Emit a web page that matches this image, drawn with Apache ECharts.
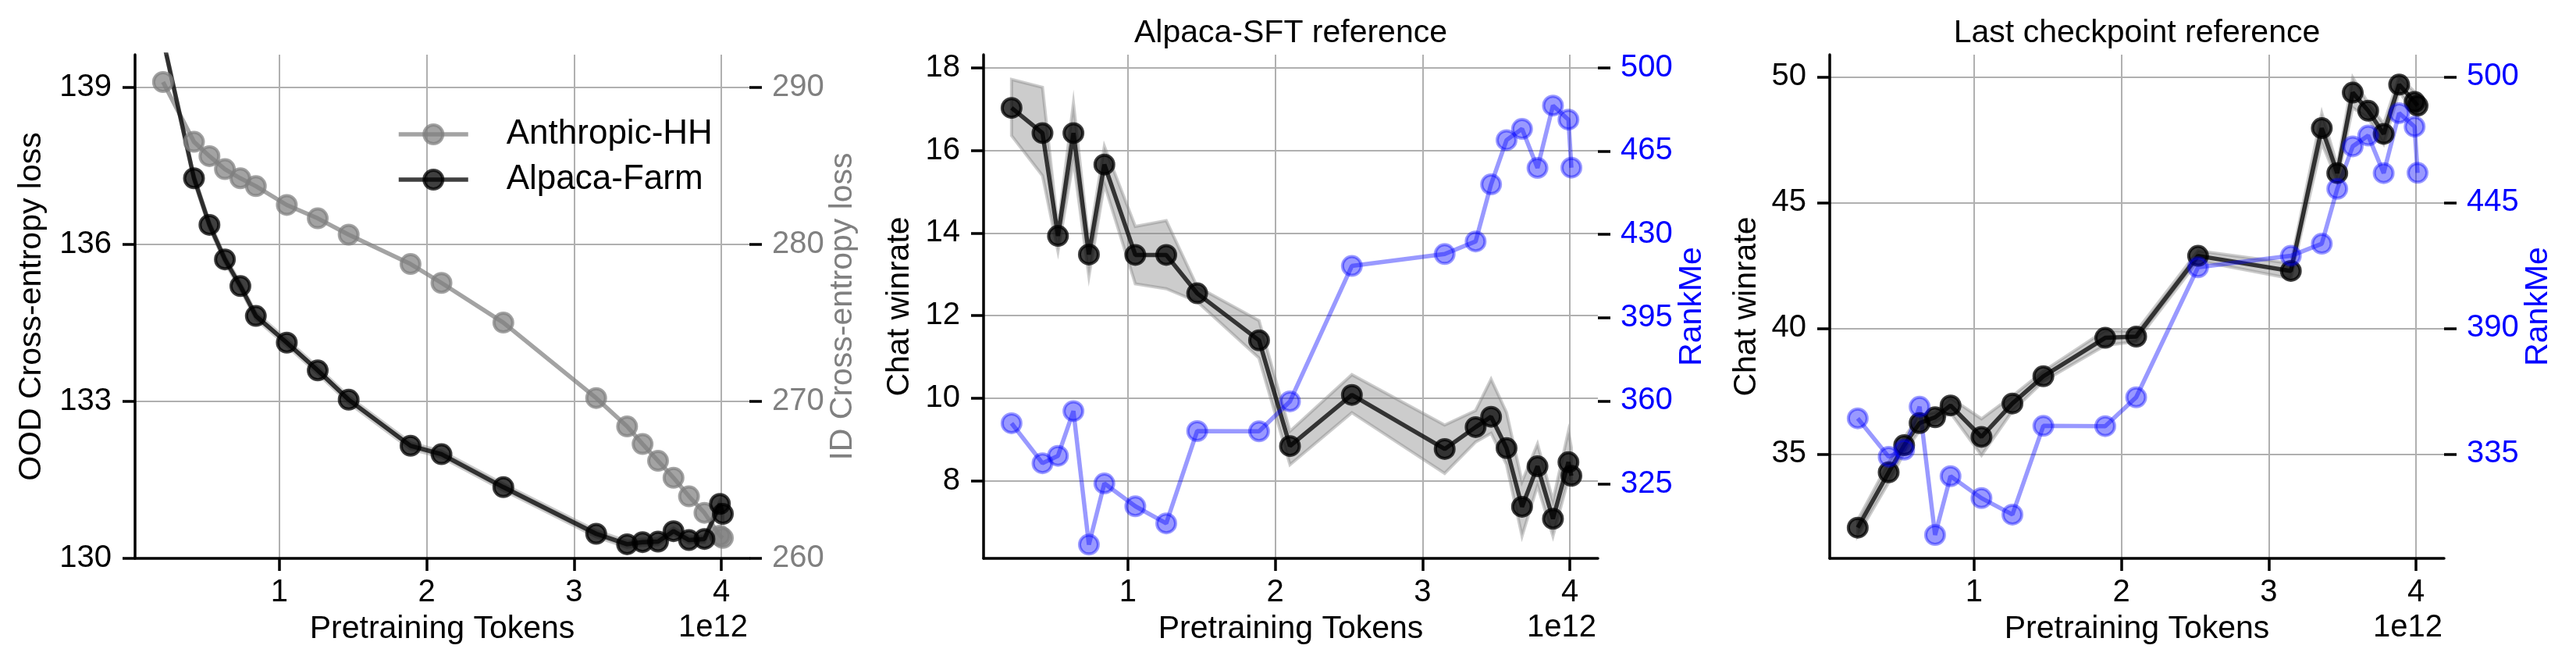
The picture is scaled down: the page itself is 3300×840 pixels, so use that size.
<!DOCTYPE html>
<html><head><meta charset="utf-8">
<script src="https://cdn.jsdelivr.net/npm/echarts@6/dist/echarts.min.js"></script>
<style>html,body{margin:0;padding:0;background:#fff}#c{width:3300px;height:840px}</style>
</head><body><div id="c"></div>
<script>
// ---------- data ----------
const tokens = [0.21, 0.42, 0.525, 0.63, 0.735, 0.84, 1.05, 1.26, 1.47, 1.89, 2.1, 2.52, 3.15, 3.36, 3.465, 3.57, 3.675, 3.78, 3.885, 3.99, 4.01];

// Panel 1
const anthropicHH = [290.33, 286.52, 285.61, 284.78, 284.2, 283.7, 282.5, 281.65, 280.61, 278.74, 277.54, 275.01, 270.21, 268.4, 267.28, 266.21, 265.13, 263.95, 262.9, 261.44, 261.3];
const alpacaFarm = [139.91, 137.26, 136.37, 135.71, 135.2, 134.63, 134.12, 133.59, 133.03, 132.15, 131.99, 131.36, 130.47, 130.27, 130.31, 130.32, 130.52, 130.35, 130.37, 131.04, 130.85];
const alpacaFarmLo = [139.85, 137.2, 136.31, 135.65, 135.14, 134.57, 134.06, 133.53, 132.97, 132.09, 131.93, 131.3, 130.41, 130.21, 130.25, 130.26, 130.46, 130.29, 130.31, 130.98, 130.79];
const alpacaFarmHi = [139.97, 137.32, 136.43, 135.77, 135.26, 134.69, 134.18, 133.65, 133.09, 132.21, 132.05, 131.42, 130.53, 130.33, 130.37, 130.38, 130.58, 130.41, 130.43, 131.1, 130.91];

// Panel 2 (Alpaca-SFT reference)
const winrateSFT = [17.03, 16.42, 13.93, 16.42, 13.48, 15.66, 13.47, 13.47, 12.54, 11.4, 8.84, 10.08, 8.77, 9.3, 9.55, 8.79, 7.37, 8.35, 7.08, 8.45, 8.12];
const winrateSFTLo = [16.36, 15.39, 13.56, 15.76, 12.95, 15.18, 12.77, 12.65, 12.34, 10.97, 8.39, 9.65, 8.18, 8.94, 9.15, 8.39, 6.66, 7.88, 6.66, 8.05, 7.95];
const winrateSFTHi = [17.72, 17.53, 14.12, 17.15, 13.76, 16.1, 14.16, 14.3, 12.7, 11.88, 9.2, 10.57, 9.35, 9.7, 10.46, 9.65, 7.98, 8.89, 7.52, 9.2, 8.8];

// Panel 3 (Last checkpoint reference)
const winrateLast = [32.07, 34.27, 35.35, 36.23, 36.46, 36.93, 35.68, 37.01, 38.09, 39.62, 39.67, 42.88, 42.28, 47.96, 46.17, 49.37, 48.65, 47.73, 49.69, 49.0, 48.85];
const winrateLastLo = [31.77, 33.87, 35.05, 35.93, 36.26, 36.63, 34.95, 36.71, 37.89, 39.32, 39.47, 42.68, 41.98, 47.36, 45.87, 48.77, 48.35, 47.33, 49.39, 48.6, 48.45];
const winrateLastHi = [32.37, 34.67, 35.65, 36.53, 36.66, 37.23, 36.4, 37.31, 38.29, 39.92, 39.87, 43.08, 42.58, 48.56, 46.47, 49.97, 48.95, 48.13, 49.99, 49.4, 49.25];

// RankMe (panels 2 and 3)
const rankMe = [350.6, 333.8, 336.9, 355.7, 299.6, 325.3, 315.7, 308.5, 347.3, 347.2, 359.8, 416.7, 421.7, 427.0, 451.0, 469.6, 474.3, 457.9, 484.1, 478.2, 458.0];

// tick labels
const xTicks = [1, 2, 3, 4];
const p1LeftTicks = [130, 133, 136, 139];
const p1RightTicks = [260, 270, 280, 290];
const p2LeftTicks = [8, 10, 12, 14, 16, 18];
const p2RightTicks = [325, 360, 395, 430, 465, 500];
const p3LeftTicks = [35, 40, 45, 50];
const p3RightTicks = [335, 390, 445, 500];

// ---------- styling ----------
const FONT = "'Liberation Sans', Arial, Helvetica, sans-serif";
const TICK_FS = 40, LABEL_FS = 41;
const GRID_LEFTS = [173, 1260, 2344];
const GW = 787, GT = 70, GH = 645;

const BLACK = 'rgba(0,0,0,0.75)';
const GREY = 'rgba(128,128,128,0.72)';
const BLUE = 'rgba(0,0,255,0.4)';

function xAxis(gi) {
  return {
    type: 'value', gridIndex: gi, min: 0.02, max: 4.19,
    name: 'Pretraining Tokens', nameLocation: 'middle', nameGap: 91, nameMoveOverlap: false,
    nameTextStyle: { fontSize: LABEL_FS, color: '#000', fontFamily: FONT, verticalAlign: 'middle' },
    axisLine: { show: true, onZero: false, lineStyle: { color: '#000', width: 3.5 } },
    axisTick: { show: true, length: 16, customValues: xTicks, lineStyle: { color: '#000', width: 3.5 } },
    axisLabel: { customValues: xTicks, fontSize: TICK_FS, color: '#000', fontFamily: FONT, margin: 44, verticalAlign: 'middle' },
    splitLine: { show: true, lineStyle: { color: '#b0b0b0', width: 2 } }
  };
}
function yLeft(gi, min, max, ticks, name, gap) {
  return {
    type: 'value', gridIndex: gi, position: 'left', min: min, max: max,
    name: name, nameLocation: 'middle', nameGap: gap, nameRotate: 90, nameMoveOverlap: false,
    nameTextStyle: { fontSize: LABEL_FS, color: '#000', fontFamily: FONT, align: 'center', verticalAlign: 'middle' },
    axisLine: { show: true, onZero: false, lineStyle: { color: '#000', width: 3.5 } },
    axisTick: { show: true, length: 16, customValues: ticks, lineStyle: { color: '#000', width: 3.5 } },
    axisLabel: { customValues: ticks, fontSize: TICK_FS, color: '#000', fontFamily: FONT, margin: 30 },
    splitLine: { show: true, lineStyle: { color: '#b0b0b0', width: 2 } }
  };
}
function yRight(gi, min, max, ticks, name, gap, color) {
  return {
    type: 'value', gridIndex: gi, position: 'right', min: min, max: max,
    name: name, nameLocation: 'middle', nameGap: gap, nameRotate: 90, nameMoveOverlap: false,
    nameTextStyle: { fontSize: LABEL_FS, color: color, fontFamily: FONT, align: 'center', verticalAlign: 'middle' },
    axisLine: { show: false, onZero: false, lineStyle: { color: '#000', width: 3.5 } },
    axisTick: { show: true, length: 16, customValues: ticks, lineStyle: { color: '#000', width: 3.5 } },
    axisLabel: { customValues: ticks, fontSize: TICK_FS, color: color, fontFamily: FONT, margin: 29 },
    splitLine: { show: false }
  };
}
function lineSeries(name, xi, yi, ys, color) {
  return {
    type: 'line', name: name, xAxisIndex: xi, yAxisIndex: yi,
    data: tokens.map((t, i) => [t, ys[i]]),
    symbol: 'circle', symbolSize: 24, showSymbol: true, clip: true,
    lineStyle: { color: color, width: 5.5 },
    itemStyle: { color: color, borderColor: color, borderWidth: 4 },
    emphasis: { disabled: true }, animation: false, z: 3
  };
}
function bandSeries(xi, yi, lo, hi) {
  return {
    type: 'custom', xAxisIndex: xi, yAxisIndex: yi, clip: true, silent: true, animation: false, z: 2,
    data: tokens.map((t, i) => [t, lo[i], hi[i]]),
    encode: { x: 0, y: [1, 2] },
    renderItem: function (params, api) {
      if (params.dataIndex !== 0) return null;
      const pts = [];
      for (let i = 0; i < tokens.length; i++) pts.push(api.coord([tokens[i], hi[i]]));
      for (let i = tokens.length - 1; i >= 0; i--) pts.push(api.coord([tokens[i], lo[i]]));
      return {
        type: 'polygon', shape: { points: pts },
        style: { fill: 'rgba(128,128,128,0.4)', stroke: 'rgba(128,128,128,0.4)', lineWidth: 4 }
      };
    }
  };
}
function txt(x, y, text, size, align) {
  return {
    type: 'text', x: x, y: y, silent: true,
    style: { text: text, font: size + 'px ' + FONT, fill: '#000', align: align, verticalAlign: 'middle', textAlign: align, textVerticalAlign: 'middle' }
  };
}

const option = {
  backgroundColor: '#fff',
  animation: false,
  grid: GRID_LEFTS.map(l => ({ left: l, top: GT, width: GW, height: GH, containLabel: false, outerBoundsMode: 'none' })),
  xAxis: [xAxis(0), xAxis(1), xAxis(2)],
  yAxis: [
    yLeft(0, 130, 139.62, p1LeftTicks, 'OOD Cross-entropy loss', 132),
    yRight(0, 260, 292.07, p1RightTicks, 'ID Cross-entropy loss', 120, '#808080'),
    yLeft(1, 6.12, 18.32, p2LeftTicks, 'Chat winrate', 107),
    yRight(1, 293.8, 505.5, p2RightTicks, 'RankMe', 121, '#0000ff'),
    yLeft(2, 30.85, 50.88, p3LeftTicks, 'Chat winrate', 106),
    yRight(2, 289.35, 509.7, p3RightTicks, 'RankMe', 121, '#0000ff')
  ],
  legend: {
    data: ['Anthropic-HH', 'Alpaca-Farm'], orient: 'vertical', left: 503, top: 145,
    itemWidth: 89, itemHeight: 30, itemGap: 14, selectedMode: false,
    textStyle: { fontSize: 44, fontFamily: FONT, color: '#000', lineHeight: 44, padding: [0, 0, 0, 44] },
    lineStyle: { width: 5.5 }, itemStyle: { borderWidth: 4 }
  },
  series: [
    bandSeries(0, 0, alpacaFarmLo, alpacaFarmHi),
    lineSeries('Anthropic-HH', 0, 1, anthropicHH, GREY),
    lineSeries('Alpaca-Farm', 0, 0, alpacaFarm, BLACK),
    bandSeries(1, 2, winrateSFTLo, winrateSFTHi),
    lineSeries('Chat winrate (Alpaca-SFT reference)', 1, 2, winrateSFT, BLACK),
    lineSeries('RankMe (Alpaca-SFT reference)', 1, 3, rankMe, BLUE),
    bandSeries(2, 4, winrateLastLo, winrateLastHi),
    lineSeries('Chat winrate (Last checkpoint reference)', 2, 4, winrateLast, BLACK),
    lineSeries('RankMe (Last checkpoint reference)', 2, 5, rankMe, BLUE)
  ],
  graphic: [
    txt(1653.5, 43, 'Alpaca-SFT reference', 41, 'center'),
    txt(2737.5, 43, 'Last checkpoint reference', 41, 'center'),
    txt(958, 804, '1e12', TICK_FS, 'right'),
    txt(2045, 804, '1e12', TICK_FS, 'right'),
    txt(3129, 804, '1e12', TICK_FS, 'right')
  ]
};
const chart = echarts.init(document.getElementById('c'), null, { renderer: 'canvas', width: 3300, height: 840 });
chart.setOption(option);
</script></body></html>
